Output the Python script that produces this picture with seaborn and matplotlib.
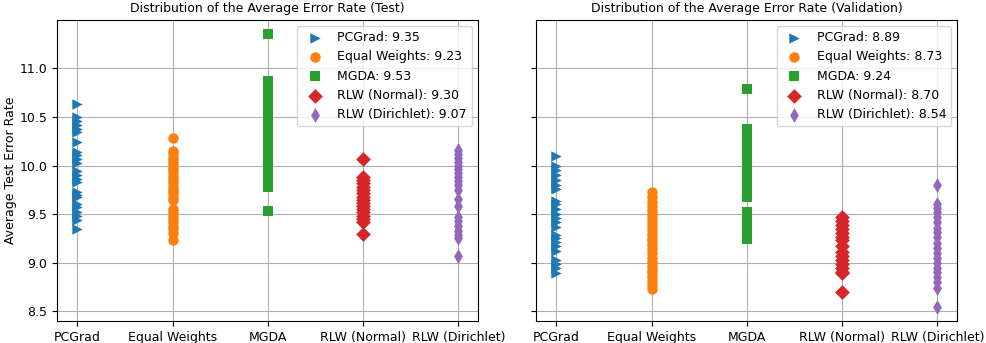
import matplotlib
matplotlib.use("Agg")
import matplotlib.pyplot as plt
import seaborn as sns
import pandas as pd

methods = ["PCGrad", "Equal Weights", "MGDA", "RLW (Normal)", "RLW (Dirichlet)"]
markers = [">", "o", "s", "D", "d"]

test_pcgrad = [10.63, 10.50, 10.46, 10.42, 10.38, 10.35, 10.24, 10.14, 10.11, 10.07, 10.03,
               9.94, 9.90, 9.86, 9.83, 9.73, 9.70, 9.68, 9.61, 9.57, 9.52, 9.48, 9.44, 9.35]
test_equal = [10.28, 10.15, 10.12, 10.08, 10.05, 10.02, 9.98, 9.95, 9.92, 9.88, 9.85, 9.82,
              9.78, 9.75, 9.72, 9.68, 9.65, 9.55, 9.52, 9.48, 9.45, 9.42, 9.38, 9.35, 9.31, 9.23]
test_mgda = [11.35, 10.87, 10.80, 10.73, 10.66, 10.59, 10.52, 10.48, 10.40, 10.33, 10.26,
             10.19, 10.12, 10.04, 9.95, 9.88, 9.81, 9.78, 9.53]
test_normal = [10.07, 9.88, 9.85, 9.82, 9.78, 9.75, 9.72, 9.68, 9.65, 9.62, 9.58, 9.55,
               9.52, 9.48, 9.45, 9.42, 9.30]
test_dirichlet = [10.16, 10.12, 10.08, 10.04, 10.00, 9.96, 9.92, 9.88, 9.84, 9.80, 9.75,
                  9.66, 9.58, 9.47, 9.43, 9.38, 9.33, 9.29, 9.25, 9.07]

val_pcgrad = [10.10, 10.00, 9.95, 9.90, 9.85, 9.80, 9.76, 9.64, 9.60, 9.55, 9.50, 9.46,
              9.42, 9.37, 9.29, 9.25, 9.21, 9.17, 9.12, 9.03, 8.99, 8.95, 8.89]
val_equal = [9.73, 9.68, 9.63, 9.58, 9.54, 9.50, 9.46, 9.42, 9.38, 9.34, 9.30, 9.26, 9.22,
             9.18, 9.14, 9.10, 9.05, 9.01, 8.97, 8.93, 8.89, 8.85, 8.81, 8.77, 8.73]
val_mgda = [10.79, 10.38, 10.27, 10.20, 10.13, 10.06, 9.99, 9.92, 9.85, 9.78, 9.71, 9.68,
            9.52, 9.45, 9.38, 9.31, 9.24]
val_normal = [9.47, 9.43, 9.39, 9.35, 9.31, 9.27, 9.23, 9.17, 9.11, 9.07, 9.03, 8.99, 8.95,
              8.91, 8.89, 8.70]
val_dirichlet = [9.80, 9.60, 9.56, 9.52, 9.47, 9.42, 9.36, 9.32, 9.27, 9.20, 9.15, 9.10,
                 9.05, 9.00, 8.95, 8.90, 8.85, 8.80, 8.74, 8.54]

test_sets = [test_pcgrad, test_equal, test_mgda, test_normal, test_dirichlet]
val_sets = [val_pcgrad, val_equal, val_mgda, val_normal, val_dirichlet]

def to_frame(sets):
    rows = []
    for m, vals in zip(methods, sets):
        for v in vals:
            rows.append({"method": m, "value": v})
    return pd.DataFrame(rows)

df_test = to_frame(test_sets)
df_val = to_frame(val_sets)

colors = sns.color_palette("tab10", 5)
plt.rcParams["font.family"] = ["DejaVu Sans"]
FS = 9

fig, axes = plt.subplots(1, 2, figsize=(9.87, 3.43), dpi=100, sharey=True)
fig.subplots_adjust(left=0.058, right=0.970, top=0.942, bottom=0.064, wspace=0.138)

panels = [
    (axes[0], df_test, "Distribution of the Average Error Rate (Test)", "Average Test Error Rate"),
    (axes[1], df_val, "Distribution of the Average Error Rate (Validation)", "Average Validation Error Rate"),
]

for ax, df, title, ylabel in panels:
    for i, m in enumerate(methods):
        sub = df[df["method"] == m]
        sns.stripplot(data=sub, x="method", y="value", order=methods, jitter=False,
                      marker=markers[i], color=colors[i], size=7.5, linewidth=0,
                      ax=ax, label=f"{m}: {sub['value'].min():.2f}", zorder=3)
    ax.set_xlim(-0.21, 4.21)
    ax.grid(True, color="#b0b0b0", linewidth=0.8, zorder=0)
    ax.set_axisbelow(True)
    ax.set_title(title, fontsize=FS)
    ax.set_xlabel("")
    ax.set_ylabel(ylabel, fontsize=FS, labelpad=2)
    for s in ax.spines.values():
        s.set_visible(True)
        s.set_color("black")
    ax.tick_params(axis="both", labelsize=FS)
    handles, labels = ax.get_legend_handles_labels()
    uh, ul = [], []
    for h, l in zip(handles, labels):
        if l in ul:
            continue
        try:
            if len(h.get_offsets()) == 0:
                continue
        except Exception:
            pass
        uh.append(h)
        ul.append(l)
    ax.legend(uh, ul, loc="upper right", fontsize=FS, framealpha=0.8, scatterpoints=1)

axes[0].set_ylim(8.40, 11.50)
axes[0].set_yticks([8.5, 9.0, 9.5, 10.0, 10.5, 11.0])
axes[1].tick_params(axis="y", labelleft=False)

fig.savefig("out.png", dpi=100)
